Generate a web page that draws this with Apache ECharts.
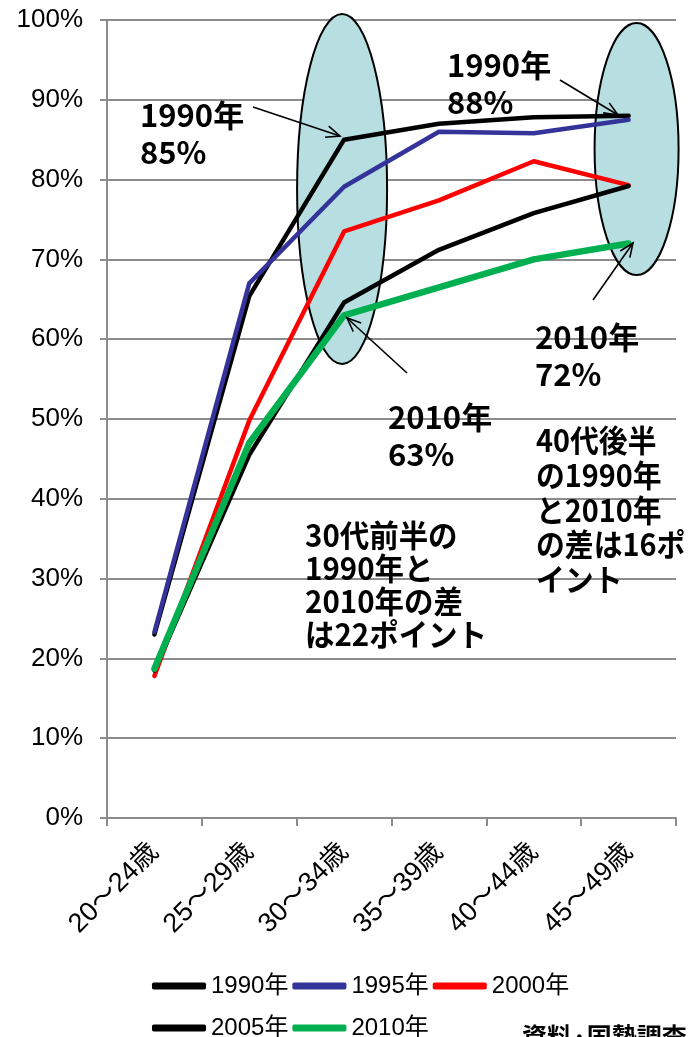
<!DOCTYPE html>
<html>
<head>
<meta charset="utf-8">
<script src="https://cdn.jsdelivr.net/npm/echarts@6/dist/echarts.min.js"></script>
<style>
  html, body { margin: 0; padding: 0; background: #fff; }
  #chart { width: 700px; height: 1037px; }
</style>
</head>
<body>
<div id="chart"></div>
<script>
const ages = ["20～24歳", "25～29歳", "30～34歳", "35～39歳", "40～44歳", "45～49歳"];
const years = ["1990年", "1995年", "2000年", "2005年", "2010年"];
const rate1990 = [23.0, 65.4, 85.0, 87.0, 87.8, 88.0];
const rate1995 = [23.3, 67.0, 79.1, 86.0, 85.8, 87.5];
const rate2000 = [17.8, 49.8, 73.5, 77.4, 82.3, 79.3];
const rate2005 = [18.5, 45.5, 64.6, 71.2, 75.8, 79.2];
const rate2010 = [18.7, 47.0, 63.0, 66.5, 70.0, 72.0];
const yTicks = [0, 10, 20, 30, 40, 50, 60, 70, 80, 90, 100];

const lineColors = ["#000000", "#333399", "#ff0000", "#000000", "#00b050"];
const lineWidths = [4.5, 4.5, 4.5, 4.5, 6.5];
const allRates = [rate1990, rate1995, rate2000, rate2005, rate2010];

const chart = echarts.init(document.getElementById("chart"));
const baseFont = '"Liberation Sans", "Noto Sans CJK JP", sans-serif';
const boldFont = '"Noto Sans CJK JP", sans-serif';

const series = years.map((name, i) => ({
    name,
    type: "line",
    data: allRates[i],
    showSymbol: false,
    symbol: "none",
    lineStyle: {color: lineColors[i], width: lineWidths[i], cap: "round", join: "round"},
    itemStyle: {color: lineColors[i]},
    z: 3 + i
}));

const legendCommon = {
    icon: "roundRect",
    itemWidth: 54,
    itemHeight: 7,
    itemGap: 4,
    orient: "horizontal",
    textStyle: {fontFamily: baseFont, fontSize: 24, color: "#000"},
    selectedMode: false
};

chart.setOption({
    animation: false,
    grid: {left: 107, right: 24, top: 20, bottom: 219, containLabel: false},
    legend: [
        {...legendCommon, data: years.slice(0, 3), left: 147, top: 969},
        {...legendCommon, data: years.slice(3), left: 147, top: 1011}
    ],
    xAxis: {
        type: "category",
        data: ages,
        boundaryGap: true,
        axisLine: {lineStyle: {color: "#8c8c8c", width: 2}},
        axisTick: {show: true, length: 8, lineStyle: {color: "#8c8c8c", width: 2}},
        axisLabel: {rotate: 45, margin: 30, fontFamily: baseFont, fontSize: 27, color: "#000"}
    },
    yAxis: {
        type: "value",
        min: yTicks[0],
        max: yTicks[yTicks.length - 1],
        interval: 10,
        axisLine: {show: true, lineStyle: {color: "#8c8c8c", width: 2}},
        axisTick: {show: true, length: 7, lineStyle: {color: "#8c8c8c", width: 2}},
        axisLabel: {formatter: "{value}%", margin: 24, fontFamily: baseFont, fontSize: 26, color: "#000"},
        splitLine: {lineStyle: {color: "#8c8c8c", width: 2}}
    },
    series
});

function arrow(tail, tip) {
    const ang = Math.atan2(tip[1] - tail[1], tip[0] - tail[0]);
    const len = 15, spread = 0.4;
    const h1 = [tip[0] - len * Math.cos(ang - spread), tip[1] - len * Math.sin(ang - spread)];
    const h2 = [tip[0] - len * Math.cos(ang + spread), tip[1] - len * Math.sin(ang + spread)];
    const stroke = {stroke: "#000", lineWidth: 1.6, fill: null};
    return [
        {type: "polyline", z: 20, shape: {points: [tail, tip]}, style: stroke},
        {type: "polyline", z: 20, shape: {points: [h1, tip, h2]}, style: stroke}
    ];
}

function note(x, y, text, lineHeight, scaleX) {
    return {
        type: "text", z: 20, x, y, scaleX: scaleX || 1,
        style: {
            text, fill: "#000", font: `bold 31px ${boldFont}`,
            lineHeight, textVerticalAlign: "top"
        }
    };
}

const c3 = chart.convertToPixel({xAxisIndex: 0}, ages[2]);
const c6 = chart.convertToPixel({xAxisIndex: 0}, ages[5]);

const graphics = [
    {type: "ellipse", z: 1, shape: {cx: c3 - 2, cy: 189, rx: 45, ry: 175},
     style: {fill: "#b7dfe2", stroke: "#000", lineWidth: 2}},
    {type: "ellipse", z: 1, shape: {cx: c6 + 8, cy: 149, rx: 42, ry: 126},
     style: {fill: "#b7dfe2", stroke: "#000", lineWidth: 2}},
    ...arrow([253, 107], [340, 136]),
    ...arrow([560, 80], [618, 115]),
    ...arrow([593, 300], [633, 243]),
    ...arrow([407, 373], [347, 318]),
    note(140, 97, "1990年\n85%", 37),
    note(447, 47, "1990年\n88%", 37),
    note(535, 319, "2010年\n72%", 37),
    note(388, 399, "2010年\n63%", 37),
    note(305, 519, "30代前半の\n1990年と\n2010年の差\nは22ポイント", 33, 0.95),
    note(536, 423, "40代後半\nの1990年\nと2010年\nの差は16ポ\nイント", 34.7, 0.93),
    {type: "text", z: 20, x: 522, y: 1024,
     style: {text: "資料·国勢調査", fill: "#000", font: `bold 25px ${boldFont}`, textVerticalAlign: "top"}}
];

chart.setOption({graphic: graphics});
</script>
</body>
</html>
